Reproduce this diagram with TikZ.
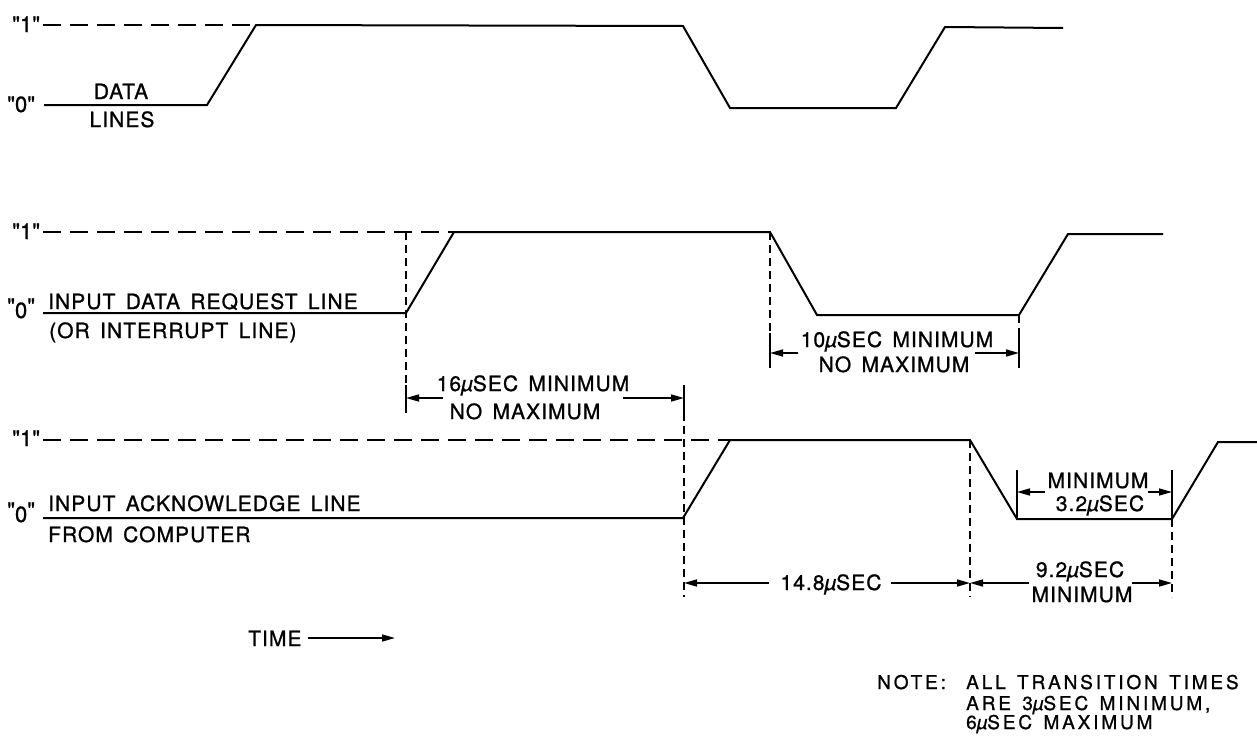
\documentclass[tikz,border=0pt]{standalone}
\usepackage{fontspec}
\setmainfont{TeX Gyre Heros}[LetterSpace=5,WordSpace=1.5,FakeBold=1]
\newfontfamily\notefont{TeX Gyre Heros}[LetterSpace=15,WordSpace=1.4,FakeBold=1]
\font\qf="TeX Gyre Heros:embolden=1" at 22pt
\usetikzlibrary{arrows.meta}
\newcommand{\muS}{{\itshape µ}}
\begin{document}
\begin{tikzpicture}[x=1pt,y=-1pt,
  sig/.style={line width=2pt,line join=miter},
  hdash/.style={line width=1.8pt,dash pattern=on 18pt off 9pt},
  vdash/.style={line width=1.5pt,dash pattern=on 8pt off 5pt},
  tickline/.style={line width=1.7pt},
  dim/.style={line width=1.6pt,-{Triangle[length=13pt,width=7pt]}},
  lbl/.style={inner sep=0pt,font=\fontsize{21}{25}\selectfont},
  qlbl/.style={inner sep=0pt,font=\qf},
  notelbl/.style={inner sep=0pt,font=\notefont\fontsize{19}{22}\selectfont}]
\fill[white] (0,0) rectangle (1257,755);
\useasboundingbox (0,0) rectangle (1257,755);

% ---------- DATA LINES ----------
\node[qlbl,anchor=base west] (d1) at (12,32) {"1"};
\node[qlbl,anchor=base west] (d0) at (7,112) {"0"};
\node[lbl,anchor=base] (dA) at (121,99) {DATA};
\node[lbl,anchor=base] (dB) at (122,127) {LINES};
\draw[hdash] (43,25) -- (256,25);
\draw[sig] (44,105) -- (207,105) -- (256,25) -- (683,26) -- (730,108) -- (896,108) -- (945,27) -- (1063,28);

% ---------- INPUT DATA REQUEST ----------
\node[qlbl,anchor=base west] (r1) at (12,239) {"1"};
\node[qlbl,anchor=base west] (r0) at (7,314) {"\raisebox{-4pt}{0}"};
\node[lbl,anchor=base west] (rA) at (48,309) {INPUT DATA REQUEST LINE};
\node[lbl,anchor=base west] (rB) at (49,338) {(OR INTERRUPT LINE)};
\draw[hdash] (43,232) -- (454,232);
\draw[sig] (43,313) -- (406,313) -- (454,232) -- (770,232) -- (817,315) -- (1019,315) -- (1068,234) -- (1163,234);

% ---------- INPUT ACKNOWLEDGE ----------
\node[qlbl,anchor=base west] (k1) at (12,446) {"1"};
\node[qlbl,anchor=base west] (k0) at (7,518) {"\raisebox{-4pt}{0}"};
\node[lbl,anchor=base west] (kA) at (48,511) {INPUT ACKNOWLEDGE LINE};
\node[lbl,anchor=base west] (kB) at (48,542) {FROM COMPUTER};
\draw[hdash] (43,440) -- (730,440);
\draw[sig] (43,518) -- (683,518) -- (730,440) -- (970,440) -- (1017,519) -- (1172,519) -- (1218,442) -- (1257,442);

% ---------- extension lines ----------
\draw[vdash] (406,232) -- (406,385);
\draw[tickline] (406,385) -- (406,413);
\draw[tickline] (684,385) -- (684,413);
\draw[vdash] (684,413) -- (684,597);
\draw[vdash] (770,232) -- (770,333);
\draw[tickline] (770,333) -- (770,368);
\draw[vdash] (1019,315) -- (1019,333);
\draw[tickline] (1019,333) -- (1019,368);
\draw[vdash] (970,440) -- (970,597);
\draw[tickline] (1017,470) -- (1017,519);
\draw[tickline] (1172,470) -- (1172,519);
\draw[vdash] (1172,519) -- (1172,597);

% ---------- 16 us ----------
\node[lbl,anchor=base] (t16a) at (533,391) {16\muS SEC MINIMUM};
\node[lbl,anchor=base] (t16b) at (525,419) {NO MAXIMUM};
\coordinate (a16l) at (443,398); \coordinate (a16L) at (406,398);
\coordinate (a16r) at (623,398); \coordinate (a16R) at (684,398);
\draw[dim] (a16l) -- (a16L);
\draw[dim] (a16r) -- (a16R);

% ---------- 10 us ----------
\node[lbl,anchor=base] (t10a) at (897,347) {10\muS SEC MINIMUM};
\node[lbl,anchor=base] (t10b) at (894,372) {NO MAXIMUM};
\coordinate (a10l) at (798,353); \coordinate (a10L) at (770,353);
\coordinate (a10r) at (975,353); \coordinate (a10R) at (1019,353);
\draw[dim] (a10l) -- (a10L);
\draw[dim] (a10r) -- (a10R);

% ---------- 3.2 us ----------
\node[lbl,anchor=base] (t32a) at (1098,488) {MINIMUM};
\node[lbl,anchor=base] (t32b) at (1100,511) {3.2\muS SEC};
\coordinate (a32l) at (1045,492); \coordinate (a32L) at (1017,492);
\coordinate (a32r) at (1148,492); \coordinate (a32R) at (1172,492);
\draw[dim] (a32l) -- (a32L);
\draw[dim] (a32r) -- (a32R);

% ---------- 14.8 us ----------
\node[lbl,anchor=base] (t148) at (831,590) {14.8\muS SEC};
\coordinate (a148l) at (769,583); \coordinate (a148L) at (684,583);
\coordinate (a148r) at (891,583); \coordinate (a148R) at (970,583);
\draw[dim] (a148l) -- (a148L);
\draw[dim] (a148r) -- (a148R);

% ---------- 9.2 us ----------
\node[lbl,anchor=base] (t92a) at (1080,577) {9.2\muS SEC};
\node[lbl,anchor=base] (t92b) at (1082,602) {MINIMUM};
\coordinate (a92l) at (1029,583); \coordinate (a92L) at (970,583);
\coordinate (a92r) at (1132,583); \coordinate (a92R) at (1172,583);
\draw[dim] (a92l) -- (a92L);
\draw[dim] (a92r) -- (a92R);

% ---------- TIME ----------
\node[lbl,anchor=base west] (time) at (248,646) {TIME};
\coordinate (timeEnd) at (395,638);
\draw[dim] (time.east |- timeEnd) ++(6,0) -- (timeEnd);

% ---------- NOTE ----------
\node[notelbl,anchor=base west] (note) at (877,689) {NOTE:};
\node[notelbl,anchor=base west] (n1) at (966,689) {ALL TRANSITION TIMES};
\node[notelbl,anchor=base west] (n2) at (966,710) {ARE 3\muS SEC MINIMUM,};
\node[notelbl,anchor=base west] (n3) at (966,729) {6\muS SEC MAXIMUM};
\end{tikzpicture}
\end{document}
